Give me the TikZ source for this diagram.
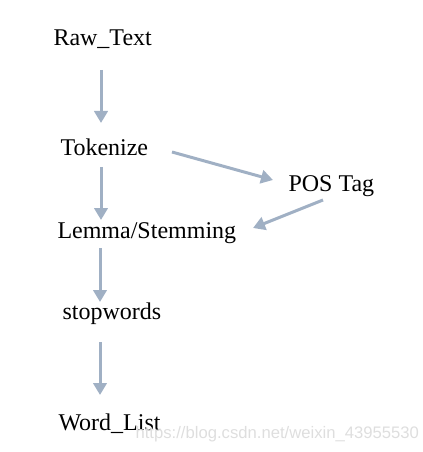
\documentclass[tikz,border=0pt]{standalone}
\usepackage{fontspec}
\setmainfont{Liberation Serif}
\newfontfamily\wmfont{Liberation Sans}
\usetikzlibrary{arrows.meta,calc}

\tikzset{every picture/.style={line width=0.75pt}}
\tikzset{
  stage/.style={anchor=base west,inner sep=0.75pt,font=\fontsize{18}{21}\selectfont},
  flow/.style={color={rgb, 255:red, 160; green, 176; blue, 196},line width=2.25pt,
    -{Triangle[width=10pt,length=9pt]}},
}

\begin{document}
\begin{tikzpicture}[x=0.75pt,y=0.75pt,yscale=-1,xscale=1]
\useasboundingbox (0,0) rectangle (422,452);

% Text Node
\draw (52,46) node [stage] (raw) {Raw\_Text};
% Text Node
\draw (59,156) node [stage] (tok) {Tokenize};
% Text Node
\draw (287,191) node [stage] (pos) {POS Tag};
% Text Node
\draw (56,238) node [stage] (lemma) {Lemma/Stemming};
% Text Node
\draw (61,319) node [stage] (stop) {stopwords};
% Text Node
\draw (57,430) node [stage] (wlist) {Word\_List};
% Text Node
\draw (135,438) node [anchor=base west][inner sep=0pt] [font=\wmfont\fontsize{12.5}{14}\selectfont,color={rgb, 255:red, 222; green, 222; blue, 222}] (mark) {https://blog.csdn.net/weixin\_43955530};

%Straight Lines
\draw [flow] ($(raw.base west)+(49,24)$) -- ($(tok.base west)+(42,-33)$) ;
%Straight Lines
\draw [flow] ($(tok.base west)+(42,11)$) -- ($(lemma.base west)+(45,-18)$) ;
%Straight Lines
\draw [flow] ($(tok.base west)+(113,-4)$) -- ($(pos.base west)+(-14,-11)$) ;
%Straight Lines
\draw [flow] ($(pos.base west)+(36,9)$) -- ($(lemma.base west)+(197,-10)$) ;
%Straight Lines
\draw [flow] ($(lemma.base west)+(44,10)$) -- ($(stop.base west)+(39,-17)$) ;
%Straight Lines
\draw [flow] ($(stop.base west)+(39,23)$) -- ($(wlist.base west)+(43,-35)$) ;

\end{tikzpicture}
\end{document}
